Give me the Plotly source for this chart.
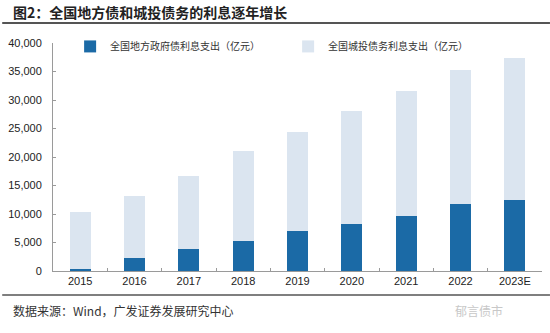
import plotly.graph_objects as go

years = ["2015", "2016", "2017", "2018", "2019", "2020", "2021", "2022", "2023E"]
local_gov_interest = [400, 2300, 3850, 5330, 6980, 8320, 9620, 11840, 12490]
lgfv_interest = [9900, 10850, 12800, 15770, 17470, 19830, 22030, 23460, 24810]
y_ticks = [0, 5000, 10000, 15000, 20000, 25000, 30000, 35000, 40000]
y_tick_text = ["0", "5,000", "10,000", "15,000", "20,000", "25,000", "30,000", "35,000", "40,000"]

title_text = "图2：全国地方债和城投债务的利息逐年增长"
source_text = "数据来源：Wind，广发证券发展研究中心"
watermark_text = "郁言债市"

dark = "#1b6aa6"
light = "#dbe5f0"
cjk = "Noto Sans CJK SC"
latin = "Liberation Sans, Arial"

fig = go.Figure()
fig.add_trace(go.Bar(x=years, y=local_gov_interest, name="全国地方政府债利息支出（亿元）",
                     marker=dict(color=dark, line=dict(width=0)), width=0.39))
fig.add_trace(go.Bar(x=years, y=lgfv_interest, name="全国城投债务利息支出（亿元）",
                     marker=dict(color=light, line=dict(width=0)), width=0.39))

fig.update_layout(
    barmode="stack",
    width=550, height=333,
    margin=dict(l=51, r=8, t=43, b=62),
    plot_bgcolor="white", paper_bgcolor="white",
    font=dict(family=latin, size=11, color="#222222"),
    showlegend=True,
    legend=dict(orientation="h", x=0.035, y=0.985, xanchor="left", yanchor="middle",
                font=dict(family=cjk, size=10, color="#333333"),
                entrywidth=173, entrywidthmode="pixels", itemwidth=30,
                traceorder="normal", bgcolor="rgba(0,0,0,0)"),
    xaxis=dict(type="category", showline=True, linecolor="#9a9a9a", linewidth=1,
               ticks="inside", ticklen=3, tickcolor="#9a9a9a", tickson="boundaries",
               tickfont=dict(family=latin, size=11, color="#222222"),
               showgrid=False, zeroline=False, range=[-0.5, 8.5]),
    yaxis=dict(range=[0, 40000], tickvals=y_ticks, ticktext=y_tick_text,
               showline=True, linecolor="#9a9a9a", linewidth=1,
               ticks="inside", ticklen=3, tickcolor="#9a9a9a", ticklabelstandoff=8,
               tickfont=dict(family=latin, size=11, color="#222222"),
               showgrid=False, zeroline=False),
    bargap=0.6,
)

fig.add_annotation(text="<b>" + title_text + "</b>", xref="paper", yref="paper",
                   x=-42/491, y=1 + (43-12)/228, xanchor="left", yanchor="middle",
                   showarrow=False, font=dict(family=cjk, size=14, color="#222222"))
fig.add_annotation(text=source_text, xref="paper", yref="paper",
                   x=-42/491, y=-(310-271)/228, xanchor="left", yanchor="middle",
                   showarrow=False, font=dict(family=cjk, size=12, color="#333333"))
fig.add_annotation(text=watermark_text, xref="paper", yref="paper",
                   x=(505-51)/491, y=-(310-271)/228, xanchor="right", yanchor="middle",
                   showarrow=False, font=dict(family=cjk, size=12, color="#c8c8c8"))

fig.add_shape(type="line", xref="paper", yref="paper", x0=-51/491, x1=1 + 8/491,
              y0=1 + (43-23)/228, y1=1 + (43-23)/228, line=dict(color="#555555", width=2))
fig.add_shape(type="line", xref="paper", yref="paper", x0=-51/491, x1=1 + 8/491,
              y0=-(295-271)/228, y1=-(295-271)/228, line=dict(color="#555555", width=1.5))

fig.write_html("out.html")
